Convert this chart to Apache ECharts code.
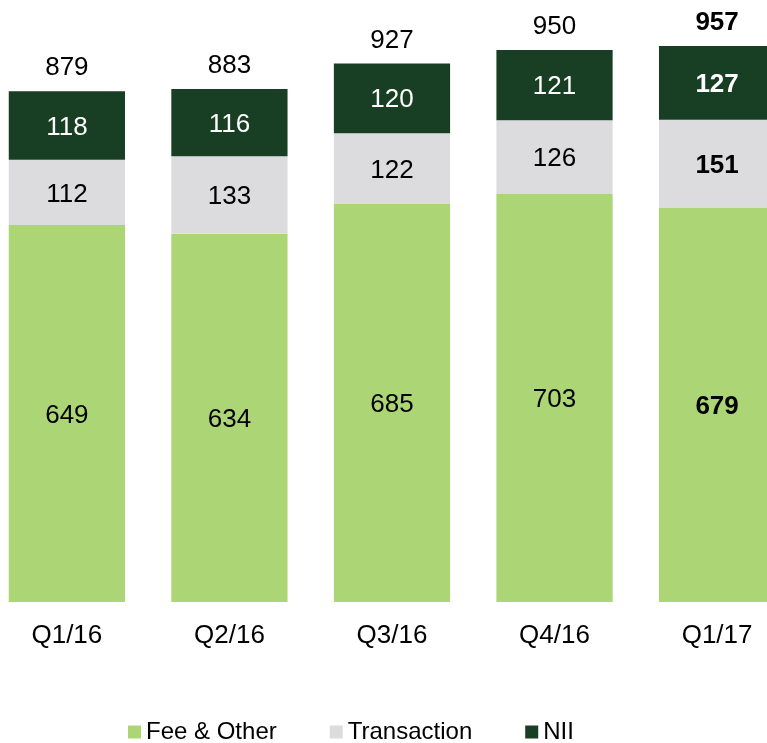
<!DOCTYPE html>
<html>
<head>
<meta charset="utf-8">
<script src="https://cdn.jsdelivr.net/npm/echarts@6/dist/echarts.min.js"></script>
<style>
  html, body { margin: 0; padding: 0; background: #fff; }
  #chart { width: 767px; height: 743px; }
</style>
</head>
<body>
<div id="chart"></div>
<script>
// 数据
const categories = ["Q1/16", "Q2/16", "Q3/16", "Q4/16", "Q1/17"];
const feeOther = [649, 634, 685, 703, 679];
const transaction = [112, 133, 122, 126, 151];
const nii = [118, 116, 120, 121, 127];
const totals = categories.map((c, i) => feeOther[i] + transaction[i] + nii[i]);
const boldIndex = 4; // 最后一季加粗

const font = "Liberation Sans, Arial, sans-serif";

// 每个柱子的数据，最后一个加粗
const withBold = (arr, color) =>
  arr.map((v, i) => ({
    value: v,
    label: { fontWeight: i === boldIndex ? "bold" : "normal", color },
  }));

const innerLabel = (color) => ({
  show: true,
  position: "inside",
  offset: [0, 2],
  fontSize: 26,
  fontFamily: font,
  color,
});

const chart = echarts.init(document.getElementById("chart"));
const option = {
  animation: false,
  legend: {
    data: ["Fee & Other", "Transaction", "NII"],
    left: 123,
    top: 715,
    itemWidth: 13,
    itemHeight: 13,
    itemGap: 53,
    icon: "rect",
    textStyle: { fontSize: 24, fontFamily: font, color: "#000" },
  },
  grid: {
    left: -14.4,
    width: 812.75,
    top: 21,
    bottom: 141,
    outerBoundsMode: "none",
  },
  xAxis: {
    type: "category",
    data: categories,
    axisLine: { show: false },
    axisTick: { show: false },
    axisLabel: { fontSize: 26, fontFamily: font, color: "#000", margin: 21 },
  },
  yAxis: {
    type: "value",
    min: 0,
    max: 1000,
    show: false,
    splitLine: { show: false },
  },
  series: [
    {
      name: "Fee & Other",
      type: "bar",
      stack: "total",
      barWidth: "71.5%",
      itemStyle: { color: "#acd576" },
      label: innerLabel("#000"),
      data: withBold(feeOther, "#000"),
    },
    {
      name: "Transaction",
      type: "bar",
      stack: "total",
      itemStyle: { color: "#dcdcde" },
      label: innerLabel("#000"),
      data: withBold(transaction, "#000"),
    },
    {
      name: "NII",
      type: "bar",
      stack: "total",
      itemStyle: { color: "#183e24" },
      label: innerLabel("#fff"),
      data: withBold(nii, "#fff"),
    },
    {
      // 总计标签
      name: "Total",
      type: "bar",
      stack: "total",
      itemStyle: { color: "transparent" },
      label: {
        show: true,
        position: "top",
        distance: 10,
        fontSize: 26,
        fontFamily: font,
        color: "#000",
        formatter: (p) => totals[p.dataIndex],
      },
      data: totals.map((t, i) => ({
        value: 0,
        label: { fontWeight: i === boldIndex ? "bold" : "normal" },
      })),
    },
  ],
};
chart.setOption(option);
</script>
</body>
</html>
